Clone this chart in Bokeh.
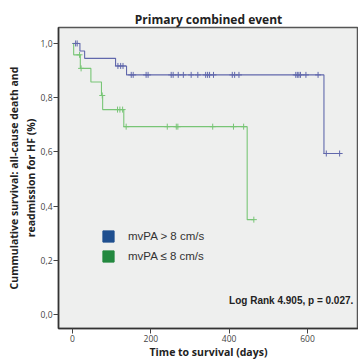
import numpy as np
from bokeh.plotting import figure
from bokeh.models import Range1d, Legend, LegendItem, Label, FixedTicker
from bokeh.embed import file_html
from bokeh.resources import INLINE

# ---- data ----
blue_times = [0, 19, 31, 110, 138, 642, 682]
blue_surv = [1.0, 0.972, 0.945, 0.917, 0.884, 0.594, 0.594]
blue_cens_t = [8, 12, 116, 123, 129,
               150, 155, 188, 193, 252, 257, 270, 283, 303, 320, 340, 345, 350, 360,
               408, 414, 425, 570, 574, 578, 582, 596, 627, 648, 682]
blue_cens_s = [1.0, 1.0, 0.917, 0.917, 0.917] + [0.884] * 23 + [0.594, 0.594]

green_times = [0, 3, 20, 47, 74, 77, 131, 446, 463]
green_surv = [1.0, 0.958, 0.908, 0.858, 0.808, 0.756, 0.693, 0.350, 0.350]
green_cens_t = [18, 22, 76, 115, 121, 128, 137, 242, 265, 269, 358, 411, 437, 463]
green_cens_s = [0.958, 0.908, 0.808, 0.756, 0.756, 0.756] + [0.693] * 7 + [0.350]

x_ticks = [0, 200, 400, 600]
y_ticks = [0.0, 0.2, 0.4, 0.6, 0.8, 1.0]
y_tick_labels = ["0,0", "0,2", "0,4", "0,6", "0,8", "1,0"]

series_labels = ["mvPA > 8 cm/s", "mvPA \u2264 8 cm/s"]
title_text = "Primary combined event"
x_label = "Time to survival (days)"
y_label = "Cummulative survival: all-cause death and\nreadmission for HF (%)"
annotation_text = "Log Rank 4.905, p = 0.027."

BLUE_LINE = "#6168ac"
GREEN_LINE = "#78c576"
BLUE_BOX = "#1f4f8f"
GREEN_BOX = "#23893f"
FONT = "Open Sans"
DARK = "#222222"

p = figure(width=358, height=361, output_backend="svg", toolbar_location=None,
           x_range=Range1d(-35.7, 730.2), y_range=Range1d(-0.0515, 1.0588),
           min_border_left=58, min_border_right=0, min_border_top=27, min_border_bottom=32)

p.title.text = title_text
p.title.align = "center"
p.title.text_font = FONT
p.title.text_font_style = "bold"
p.title.text_font_size = "12px"
p.title.text_color = DARK
p.title.standoff = 0

p.background_fill_color = "#eeefee"
p.border_fill_color = "white"
p.outline_line_color = "#555555"
p.outline_line_width = 1.5
p.grid.visible = False

for ax in (p.xaxis[0], p.yaxis[0]):
    ax.axis_line_color = "#333333"
    ax.axis_line_width = 1.5
    ax.major_tick_in = 0
    ax.major_tick_out = 5
    ax.major_tick_line_color = "#444444"
    ax.minor_tick_line_color = None
    ax.major_label_text_font = FONT
    ax.major_label_text_font_size = "8.5px"
    ax.major_label_text_color = "#444444"
    ax.axis_label_text_font = FONT
    ax.axis_label_text_font_style = "bold"
    ax.axis_label_text_font_size = "10.5px"
    ax.axis_label_text_color = DARK

p.xaxis.ticker = FixedTicker(ticks=x_ticks)
p.xaxis.major_label_standoff = 1
p.xaxis.axis_label = x_label
p.xaxis.axis_label_standoff = 0

p.yaxis.ticker = FixedTicker(ticks=y_ticks)
p.yaxis.major_label_overrides = {t: l for t, l in zip(y_ticks, y_tick_labels)}
p.yaxis.major_label_standoff = 1
p.yaxis.axis_label = y_label
p.yaxis.axis_label_standoff = 0

p.step(x=blue_times, y=blue_surv, mode="after", line_color=BLUE_LINE, line_width=1.1)
p.step(x=green_times, y=green_surv, mode="after", line_color=GREEN_LINE, line_width=1.1)
p.scatter(x=blue_cens_t, y=blue_cens_s, marker="cross", size=6, line_color=BLUE_LINE, line_width=1)
p.scatter(x=green_cens_t, y=green_cens_s, marker="cross", size=6, line_color=GREEN_LINE, line_width=1)

# legend proxies (no visible data)
nan = [np.nan]
rb = p.quad(left=nan, right=nan, top=nan, bottom=nan, fill_color=BLUE_BOX, line_color=BLUE_BOX)
rg = p.quad(left=nan, right=nan, top=nan, bottom=nan, fill_color=GREEN_BOX, line_color=GREEN_BOX)
legend = Legend(items=[LegendItem(label=series_labels[0], renderers=[rb]),
                       LegendItem(label=series_labels[1], renderers=[rg])],
                location=(43, 65), orientation="vertical",
                glyph_width=14, glyph_height=14, label_height=14, spacing=6,
                label_standoff=13, padding=0, margin=0,
                border_line_color=None, background_fill_alpha=0,
                label_text_font="Liberation Sans", label_text_font_size="11.5px",
                label_text_color="#333333")
p.add_layout(legend, "center")

p.add_layout(Label(x=717, y=0.051, text=annotation_text, text_align="right",
                   text_baseline="middle", text_font="Liberation Sans",
                   text_font_style="bold", text_font_size="10px", text_color=DARK))

open("out.html", "w").write(file_html(p, INLINE))
